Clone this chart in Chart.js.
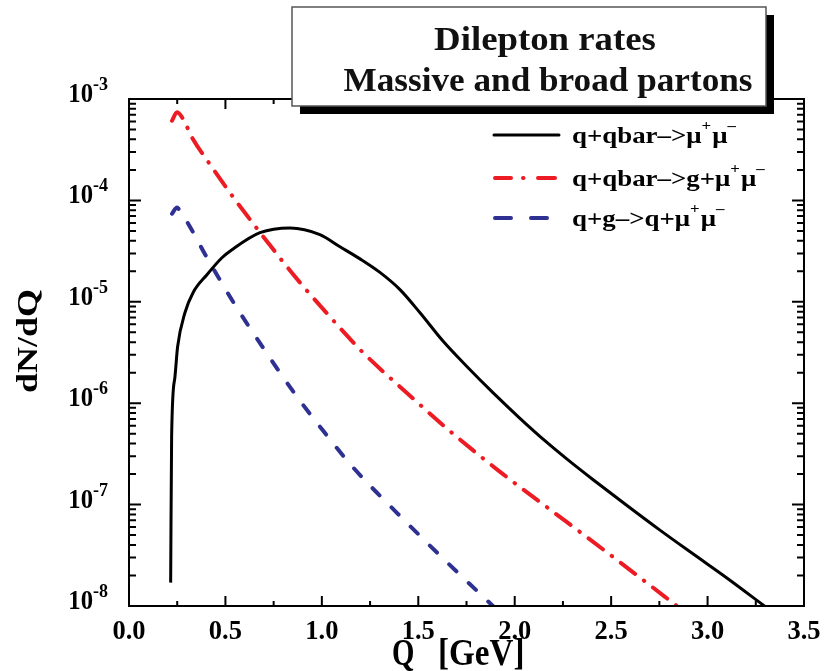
<!DOCTYPE html>
<html>
<head>
<meta charset="utf-8">
<script src="https://cdn.jsdelivr.net/npm/chart.js@4"></script>
<style>body{margin:0;background:#fff}</style>
</head>
<body>
<canvas id="chart" width="824" height="671"></canvas>
<script>
// values (Q in GeV, dN/dQ)
const blackQ = [0.216, 0.221, 0.238, 0.252, 0.290, 0.332, 0.404, 0.482, 0.534, 0.679, 0.835, 0.990, 1.094, 1.198, 1.301, 1.405, 1.509, 1.628, 1.752, 1.887, 2.027, 2.167, 2.276, 2.405, 2.582, 2.753, 2.924, 3.100, 3.295];
const blackN = [1.7e-8, 4.7e-7, 1.8e-6, 3.6e-6, 7.8e-6, 1.23e-5, 1.85e-5, 2.72e-5, 3.26e-5, 4.8e-5, 5.35e-5, 4.6e-5, 3.49e-5, 2.65e-5, 1.95e-5, 1.32e-5, 7.8e-6, 4.1e-6, 2.3e-6, 1.27e-6, 7.1e-7, 4.1e-7, 2.76e-7, 1.77e-7, 9.8e-8, 5.6e-8, 3.27e-8, 1.89e-8, 1.0e-8];

const redQ = [0.223, 0.249, 0.275, 0.332, 0.410, 0.498, 0.565, 0.664, 0.721, 0.819, 0.902, 0.990, 1.146, 1.213, 1.441, 1.680, 1.939, 2.276, 2.457, 2.649, 2.841];
const redN = [6.1e-4, 7.4e-4, 6.6e-4, 4.0e-4, 2.41e-4, 1.39e-4, 9.3e-5, 5.27e-5, 3.82e-5, 2.22e-5, 1.43e-5, 9.2e-6, 4.3e-6, 3.16e-6, 1.26e-6, 5.0e-7, 2.0e-7, 6.6e-8, 3.63e-8, 1.91e-8, 1.0e-8];

const blueQ = [0.223, 0.249, 0.264, 0.316, 0.394, 0.550, 0.705, 0.861, 1.006, 1.161, 1.389, 1.628, 1.887];
const blueN = [7.4e-5, 8.5e-5, 7.9e-5, 5.5e-5, 2.95e-5, 9.3e-6, 3.31e-6, 1.23e-6, 5.37e-7, 2.34e-7, 8.3e-8, 2.95e-8, 1.0e-8];

const xTickLabels = ['0.0', '0.5', '1.0', '1.5', '2.0', '2.5', '3.0', '3.5'];
const yExponents = [-3, -4, -5, -6, -7, -8];
const titleLines = ['Dilepton rates', 'Massive and broad partons'];
const legendTexts = [
    [['q+qbar–>μ', 0], ['+', 1], ['μ', 0], ['–', 1]],
    [['q+qbar–>g+μ', 0], ['+', 1], ['μ', 0], ['–', 1]],
    [['q+g–>q+μ', 0], ['+', 1], ['μ', 0], ['–', 1]]
];

const RED = '#ed1c24';
const BLUE = '#2e3192';
const FONT = '"Liberation Serif", "Times New Roman", serif';

function pts(qs, ns) {
    return qs.map((q, i) => ({ x: q, y: ns[i] }));
}

// text stretched with sx / sy
function stretchText(ctx, txt, x, y, size, sx, sy, align) {
    ctx.save();
    ctx.font = 'bold ' + size + 'px ' + FONT;
    ctx.textAlign = align || 'left';
    ctx.textBaseline = 'alphabetic';
    ctx.translate(x, y);
    ctx.scale(sx, sy);
    ctx.fillText(txt, 0, 0);
    ctx.restore();
}

function richText(ctx, parts, x, y, sx) {
    ctx.save();
    ctx.translate(x, y);
    ctx.scale(sx, 1);
    let cx = 0;
    parts.forEach(([t, sup]) => {
        ctx.font = 'bold ' + (sup ? 15 : 24) + 'px ' + FONT;
        ctx.fillText(t, cx, sup ? -13 : 0);
        cx += ctx.measureText(t).width + (sup ? 1 : 0);
    });
    ctx.restore();
}

const framePlugin = {
    id: 'frame',
    afterDraw(chart) {
        const { ctx, chartArea: a, scales: { x, y } } = chart;
        ctx.save();
        ctx.strokeStyle = '#000';
        ctx.fillStyle = '#000';
        ctx.lineWidth = 2;
        ctx.strokeRect(a.left, a.top, a.right - a.left, a.bottom - a.top);

        // x ticks, inward, top and bottom
        ctx.beginPath();
        for (let i = 0; i <= 14; i++) {
            const px = x.getPixelForValue(i * 0.25);
            const len = i % 2 === 0 ? 10 : 5;
            ctx.moveTo(px, a.bottom); ctx.lineTo(px, a.bottom - len);
            ctx.moveTo(px, a.top); ctx.lineTo(px, a.top + len);
        }
        // y ticks, log decades
        for (let e = -8; e <= -4; e++) {
            for (let m = 1; m <= 9; m++) {
                const py = y.getPixelForValue(m * Math.pow(10, e));
                const len = m === 1 ? 12 : 7;
                ctx.moveTo(a.left, py); ctx.lineTo(a.left + len, py);
                ctx.moveTo(a.right, py); ctx.lineTo(a.right - len, py);
            }
        }
        const pt = y.getPixelForValue(1e-3);
        ctx.moveTo(a.left, pt); ctx.lineTo(a.left + 12, pt);
        ctx.moveTo(a.right, pt); ctx.lineTo(a.right - 12, pt);
        ctx.stroke();

        // tick labels
        xTickLabels.forEach((lab, i) => {
            stretchText(ctx, lab, x.getPixelForValue(i * 0.5), 639, 26, 1.02, 1.08, 'center');
        });
        yExponents.forEach(ex => {
            const py = y.getPixelForValue(Math.pow(10, ex));
            stretchText(ctx, '10', 93, py + 3, 26, 0.95, 1.08, 'right');
            stretchText(ctx, String(ex), 93, py - 9, 18, 1, 1, 'left');
        });

        // axis titles
        ctx.save();
        ctx.translate(37, 341);
        ctx.rotate(-Math.PI / 2);
        ctx.scale(1.2, 1);
        ctx.font = 'bold 30px ' + FONT;
        ctx.textAlign = 'center';
        ctx.fillText('dN/dQ', 0, 0);
        ctx.restore();
        stretchText(ctx, 'Q', 392, 665, 36, 0.8, 1.05, 'left');
        stretchText(ctx, '[GeV]', 438, 665, 36, 0.92, 1.05, 'left');

        // title box with shadow
        ctx.fillStyle = '#000';
        ctx.fillRect(300, 15, 474, 99);
        ctx.fillStyle = '#fff';
        ctx.fillRect(292, 7, 474, 99);
        ctx.strokeStyle = '#555';
        ctx.lineWidth = 1.5;
        ctx.strokeRect(292, 7, 474, 99);
        ctx.fillStyle = '#111';
        stretchText(ctx, titleLines[0], 545, 50, 32, 1.15, 1.05, 'center');
        stretchText(ctx, titleLines[1], 548, 91, 32, 1.1, 1.05, 'center');

        // legend
        const rows = [135, 178, 218];
        ctx.lineCap = 'round';
        ctx.lineWidth = 3;
        ctx.strokeStyle = '#000';
        ctx.beginPath(); ctx.moveTo(494, rows[0]); ctx.lineTo(559, rows[0]); ctx.stroke();
        ctx.lineWidth = 4;
        ctx.strokeStyle = RED;
        ctx.beginPath();
        ctx.moveTo(495, rows[1]); ctx.lineTo(511, rows[1]);
        ctx.moveTo(523, rows[1]); ctx.lineTo(523.5, rows[1]);
        ctx.moveTo(538, rows[1]); ctx.lineTo(555, rows[1]);
        ctx.stroke();
        ctx.strokeStyle = BLUE;
        ctx.beginPath();
        ctx.moveTo(495, rows[2]); ctx.lineTo(511, rows[2]);
        ctx.moveTo(531, rows[2]); ctx.lineTo(547, rows[2]);
        ctx.stroke();
        ctx.fillStyle = '#000';
        ctx.textAlign = 'left';
        legendTexts.forEach((parts, i) => richText(ctx, parts, 572, rows[i] + 8, 1.12));
        ctx.restore();
    }
};

const chart = new Chart(document.getElementById('chart'), {
    type: 'line',
    data: {
        datasets: [{
            label: 'q+qbar->μ+μ-',
            data: pts(blackQ, blackN),
            borderColor: '#000',
            borderWidth: 3,
            pointRadius: 0,
            cubicInterpolationMode: 'monotone'
        }, {
            label: 'q+qbar->g+μ+μ-',
            data: pts(redQ, redN),
            borderColor: RED,
            borderWidth: 4,
            borderDash: [18, 11, 0.5, 11],
            borderCapStyle: 'round',
            pointRadius: 0,
            cubicInterpolationMode: 'monotone'
        }, {
            label: 'q+g->q+μ+μ-',
            data: pts(blueQ, blueN),
            borderColor: BLUE,
            borderWidth: 4,
            borderDash: [10, 17],
            borderCapStyle: 'round',
            pointRadius: 0,
            cubicInterpolationMode: 'monotone'
        }]
    },
    options: {
        responsive: false,
        animation: false,
        layout: { padding: { left: 129, right: 20, top: 99, bottom: 65 } },
        scales: {
            x: { type: 'linear', min: 0, max: 3.5, display: false },
            y: { type: 'logarithmic', min: 1e-8, max: 1e-3, display: false }
        },
        plugins: { legend: { display: false }, tooltip: { enabled: false } }
    },
    plugins: [framePlugin]
});
</script>
</body>
</html>
